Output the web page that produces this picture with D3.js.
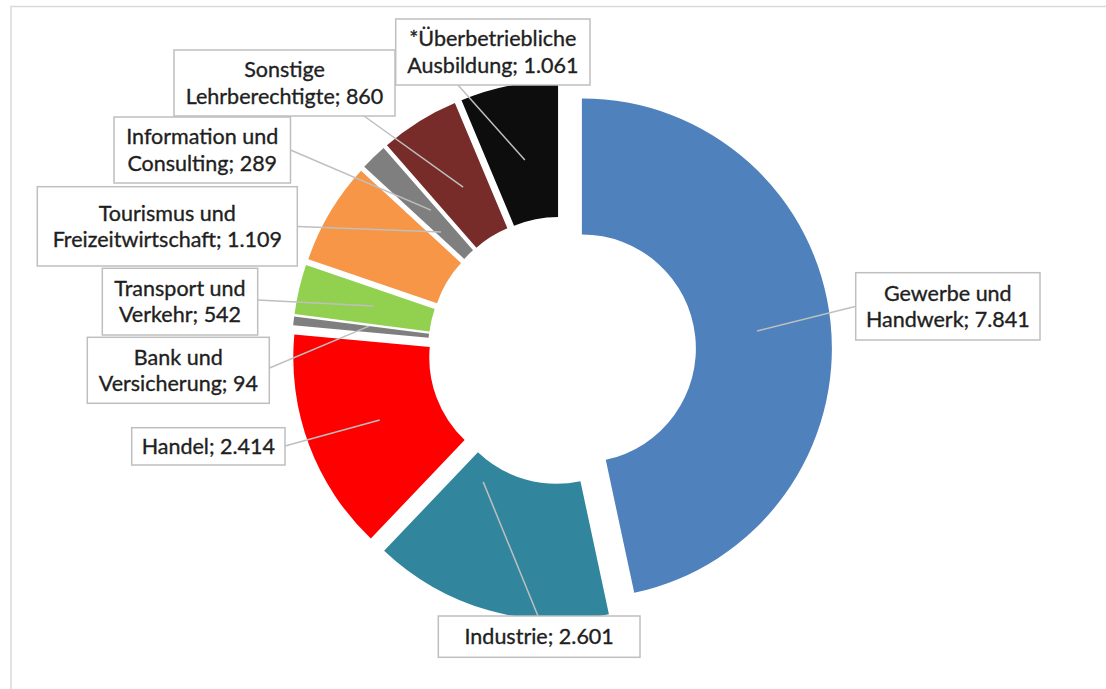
<!DOCTYPE html>
<html>
<head>
<meta charset="utf-8">
<script src="https://cdn.jsdelivr.net/npm/d3@7"></script>
<style>
  html, body { margin: 0; padding: 0; background: #fff; }
  svg { display: block; }
</style>
</head>
<body>
<svg id="chart" width="1106" height="689"></svg>
<script>
// ---- data ----
const categories = [
  "Gewerbe und|Handwerk",
  "Industrie",
  "Handel",
  "Bank und|Versicherung",
  "Transport und|Verkehr",
  "Tourismus und|Freizeitwirtschaft",
  "Information und|Consulting",
  "Sonstige|Lehrberechtigte",
  "*Überbetriebliche|Ausbildung"
];
const values = [7841, 2601, 2414, 94, 542, 1109, 289, 860, 1061];
const colors = ["#4F81BD", "#31859C", "#FF0000", "#7F7F7F", "#92D050", "#F79646", "#7F7F7F", "#772C2A", "#0D0D0D"];

// ---- layout (label boxes, leader endpoints, anchor angle/radius) ----
const labelBoxes = [
  [855.7, 272.7, 1040, 340],
  [438.3, 616, 640, 657.3],
  [131.7, 427.7, 285, 465],
  [87.3, 337.3, 269.3, 403.3],
  [102.3, 268.3, 257.7, 335],
  [37.3, 186.7, 297.3, 266],
  [114, 117, 290.5, 183],
  [174, 50, 395, 116],
  [395.7, 19, 590, 85]
];
const leaderEnds = [
  [855, 306.5], [538, 616], [285, 446], [269.5, 368], [258, 300],
  [297.5, 226.5], [290.5, 150], [364, 116], [458, 85]
];
const leaderAnchors = [
  [84.3, 176], [213.2, 134], [249.1, 175], [277.3, 174.5], [283.3, 174],
  [316.2, 150], [317.1, 172], [328.9, 171], [349.0, 174]
];

const W = 1106, H = 689;
const cx = 562, cy = 350.5;
const outerR = 250, innerR = 114, explode = 20;

const svg = d3.select("#chart");
const deFmt = d3.formatLocale({decimal: ",", thousands: ".", grouping: [3], currency: ["", "€"]}).format(",");

// chart area border
svg.append("rect")
  .attr("x", 11).attr("y", 6.5)
  .attr("width", W + 20).attr("height", H + 20)
  .attr("fill", "none").attr("stroke", "#D9D9D9").attr("stroke-width", 1.5);

const pie = d3.pie().sort(null).value(d => d).startAngle(0).endAngle(2 * Math.PI);
const arcs = pie(values);
const arc = d3.arc().innerRadius(innerR).outerRadius(outerR);

const sliceCenter = a => {
  const mid = (a.startAngle + a.endAngle) / 2;
  return [cx + explode * Math.sin(mid), cy - explode * Math.cos(mid)];
};

const g = svg.append("g");
g.selectAll("path.slice")
  .data(arcs)
  .join("path")
  .attr("class", "slice")
  .attr("transform", d => `translate(${sliceCenter(d)[0]},${sliceCenter(d)[1]})`)
  .attr("d", arc)
  .attr("fill", (d, i) => colors[i]);

// leader lines
const leaders = svg.append("g");
arcs.forEach((a, i) => {
  const [sx, sy] = sliceCenter(a);
  const ang = leaderAnchors[i][0] * Math.PI / 180, rr = leaderAnchors[i][1];
  const ax = sx + rr * Math.sin(ang), ay = sy - rr * Math.cos(ang);
  leaders.append("line")
    .attr("x1", ax).attr("y1", ay)
    .attr("x2", leaderEnds[i][0]).attr("y2", leaderEnds[i][1])
    .attr("stroke", "#BFBFBF").attr("stroke-width", 1.5);
});

// labels
const labels = svg.append("g")
  .attr("font-family", "Lato, 'Open Sans', sans-serif")
  .attr("font-size", 21.5)
  .attr("fill", "#1f1f1f")
  .attr("stroke", "#1f1f1f")
  .attr("stroke-width", 0.35);
categories.forEach((c, i) => {
  const [x0, y0, x1, y1] = labelBoxes[i];
  labels.append("rect")
    .attr("x", x0).attr("y", y0)
    .attr("width", x1 - x0).attr("height", y1 - y0)
    .attr("fill", "#fff").attr("stroke", "#BFBFBF").attr("stroke-width", 1.5);
  const lines = c.split("|");
  lines[lines.length - 1] += "; " + deFmt(values[i]);
  const bx = (x0 + x1) / 2, by = (y0 + y1) / 2;
  const n = lines.length;
  lines.forEach((ln, k) => {
    labels.append("text")
      .attr("x", bx)
      .attr("y", by + 7.5 + (k - (n - 1) / 2) * 26.5)
      .attr("text-anchor", "middle")
      .text(ln);
  });
});
</script>
</body>
</html>
